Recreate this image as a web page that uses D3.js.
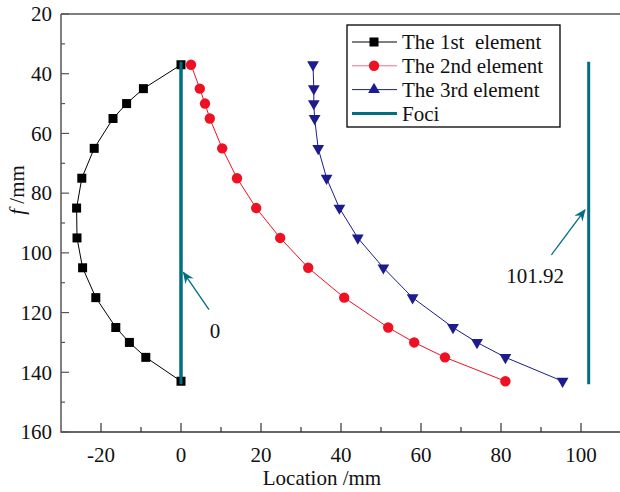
<!DOCTYPE html>
<html>
<head>
<meta charset="utf-8">
<script src="https://cdn.jsdelivr.net/npm/d3@7"></script>
<style>
  body { margin: 0; background: #fff; }
</style>
</head>
<body>
<div class="chart"></div>
<script>
// focal length steps (mm)
const fValues = [37, 45, 50, 55, 65, 75, 85, 95, 105, 115, 125, 130, 135, 143];
// location of each element (mm)
const element1 = [0, -9.4, -13.6, -17, -21.7, -24.8, -26.1, -26, -24.6, -21.3, -16.3, -12.9, -8.8, 0];
const element2 = [2.5, 4.7, 6, 7.2, 10.3, 14, 18.8, 24.8, 31.8, 40.8, 51.8, 58.3, 66, 81.1];
const element3 = [33, 33.2, 33.2, 33.4, 34.3, 36.4, 39.6, 44.2, 50.6, 57.9, 68, 74, 81.1, 95.4];
const fociX = [0, 101.92];
const fociRange = [36, 144];
const seriesNames = ["The 1st  element", "The 2nd element", "The 3rd element", "Foci"];
const xTicks = [-20, 0, 20, 40, 60, 80, 100];
const yTicks = [20, 40, 60, 80, 100, 120, 140, 160];
// annotations: label, label position, arrow tail, arrow head (data units)
const annLabels = ["0", "101.92"];
const annLabelPos = [[8.5, 126], [88.5, 107.5]];
const annTail = [[7, 119], [92.6, 100.7]];
const annHead = [[0.6, 106.5], [101, 85.6]];

const width = 620, height = 492;
const fontSize = 21;
const colors = ["#000", "#ee1123", "#1c1c8c", "#007080"];

const svg = d3.select(".chart").append("svg")
    .attr("width", width)
    .attr("height", height)
    .attr("font-family", "'Liberation Serif', 'Times New Roman', 'DejaVu Serif', serif")
    .attr("fill", "#111");

const x = d3.scaleLinear().domain([-30, 110]).range([61, 621]);
const y = d3.scaleLinear().domain([20, 160]).range([14, 432]);

// frame
svg.append("line")
    .attr("x1", x(-30)).attr("x2", width)
    .attr("y1", y(20)).attr("y2", y(20))
    .attr("stroke", "#000").attr("stroke-width", 1.2);

// x axis (ticks inward)
const xAxis = svg.append("g").attr("transform", "translate(0," + y(160) + ")");
xAxis.append("line").attr("x1", x(-30)).attr("x2", width)
    .attr("stroke", "#333").attr("stroke-width", 1.5);
xAxis.selectAll(".minor").data(d3.range(-10, 110, 20)).enter().append("line")
    .attr("x1", (d) => x(d)).attr("x2", (d) => x(d))
    .attr("y1", 0).attr("y2", -5).attr("stroke", "#333").attr("stroke-width", 1.2);
xAxis.selectAll(".major").data(xTicks).enter().append("line")
    .attr("x1", (d) => x(d)).attr("x2", (d) => x(d))
    .attr("y1", 0).attr("y2", -9).attr("stroke", "#333").attr("stroke-width", 1.2);
xAxis.selectAll("text").data(xTicks).enter().append("text")
    .attr("x", (d) => x(d)).attr("y", 30)
    .attr("text-anchor", "middle").attr("font-size", fontSize)
    .text((d) => d);

svg.append("text")
    .attr("x", 322).attr("y", 485)
    .attr("text-anchor", "middle").attr("font-size", fontSize)
    .text("Location /mm");

// y axis (ticks inward)
const yAxis = svg.append("g").attr("transform", "translate(" + x(-30) + ",0)");
yAxis.append("line").attr("y1", y(20)).attr("y2", y(160) + 0.75)
    .attr("stroke", "#555").attr("stroke-width", 1.5);
yAxis.selectAll(".minor").data(d3.range(30, 160, 20)).enter().append("line")
    .attr("y1", (d) => y(d)).attr("y2", (d) => y(d))
    .attr("x1", 0).attr("x2", 4).attr("stroke", "#555").attr("stroke-width", 1.2);
yAxis.selectAll(".major").data(yTicks).enter().append("line")
    .attr("y1", (d) => y(d)).attr("y2", (d) => y(d))
    .attr("x1", 0).attr("x2", 8).attr("stroke", "#555").attr("stroke-width", 1.2);
yAxis.selectAll("text").data(yTicks).enter().append("text")
    .attr("x", -9).attr("y", (d) => y(d))
    .attr("dy", "0.35em")
    .attr("text-anchor", "end").attr("font-size", fontSize)
    .text((d) => d);

const yLabel = svg.append("text")
    .attr("transform", "translate(24,190) rotate(-90)")
    .attr("text-anchor", "middle").attr("font-size", fontSize);
yLabel.append("tspan").attr("font-style", "italic").text("f");
yLabel.append("tspan").text(" /mm");

// foci lines
svg.selectAll(".foci").data(fociX).enter().append("line")
    .attr("x1", (d) => x(d)).attr("x2", (d) => x(d))
    .attr("y1", y(fociRange[0])).attr("y2", y(fociRange[1]))
    .attr("stroke", colors[3]).attr("stroke-width", 3);

// series
const series = [element1, element2, element3];
const line = d3.line().x((d) => x(d[0])).y((d) => y(d[1]));
const tri = d3.symbol().type(d3.symbolTriangle).size(60);

function drawMarker(g, i, cx, cy, down) {
  if (i === 0) {
    g.append("rect").attr("x", cx - 4.5).attr("y", cy - 4.5)
      .attr("width", 9).attr("height", 9).attr("fill", colors[0]);
  } else if (i === 1) {
    g.append("circle").attr("cx", cx).attr("cy", cy).attr("r", 5.2).attr("fill", colors[1]);
  } else {
    g.append("path").attr("d", tri)
      .attr("transform", "translate(" + cx + "," + cy + ")" + (down ? " rotate(180)" : ""))
      .attr("fill", colors[2]);
  }
}

series.forEach((s, i) => {
  const pts = s.map((v, j) => [v, fValues[j]]);
  const g = svg.append("g");
  g.append("path").datum(pts)
    .attr("d", line).attr("fill", "none")
    .attr("stroke", colors[i]).attr("stroke-width", 1);
  pts.forEach((p) => drawMarker(g, i, x(p[0]), y(p[1]), true));
});

// redraw the first foci line over the black end markers
svg.append("line")
    .attr("x1", x(fociX[0])).attr("x2", x(fociX[0]))
    .attr("y1", y(fociRange[0])).attr("y2", y(fociRange[1]))
    .attr("stroke", colors[3]).attr("stroke-width", 3);

// annotations
svg.append("defs").append("marker")
    .attr("id", "arrow")
    .attr("viewBox", "0 0 12 10")
    .attr("refX", 11).attr("refY", 5)
    .attr("markerWidth", 12).attr("markerHeight", 10)
    .attr("markerUnits", "userSpaceOnUse")
    .attr("orient", "auto")
    .append("path")
    .attr("d", "M0,0 L12,5 L0,10 L4,5 Z")
    .attr("fill", colors[3]);

annLabels.forEach((t, i) => {
  svg.append("line")
    .attr("x1", x(annTail[i][0])).attr("y1", y(annTail[i][1]))
    .attr("x2", x(annHead[i][0])).attr("y2", y(annHead[i][1]))
    .attr("stroke", colors[3]).attr("stroke-width", 1.3)
    .attr("marker-end", "url(#arrow)");
  svg.append("text")
    .attr("x", x(annLabelPos[i][0])).attr("y", y(annLabelPos[i][1]))
    .attr("dy", "0.35em")
    .attr("text-anchor", "middle").attr("font-size", fontSize)
    .text(t);
});

// legend
const legend = svg.append("g");
legend.append("rect")
    .attr("x", 347).attr("y", 25).attr("width", 213).attr("height", 102)
    .attr("fill", "#fff").attr("stroke", "#000").attr("stroke-width", 1.3);
seriesNames.forEach((name, i) => {
  const ly = 42 + i * 23.8;
  legend.append("line")
    .attr("x1", 352).attr("x2", 397).attr("y1", ly).attr("y2", ly)
    .attr("stroke", i === 1 ? "#f07080" : colors[i])
    .attr("stroke-width", i === 3 ? 3 : 1);
  if (i < 3) drawMarker(legend, i, 374, ly, false);
  legend.append("text")
    .attr("x", 402).attr("y", ly)
    .attr("dy", "0.35em").attr("font-size", fontSize)
    .attr("xml:space", "preserve")
    .style("white-space", "pre")
    .text(name);
});
</script>
</body>
</html>
